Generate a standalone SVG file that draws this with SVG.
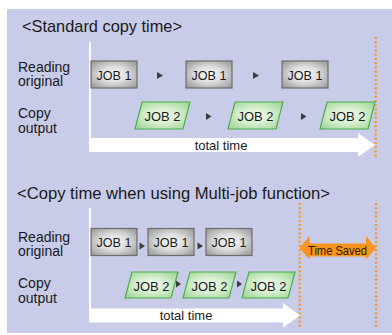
<svg xmlns="http://www.w3.org/2000/svg" width="392" height="335" viewBox="0 0 392 335">
<style>
.bg{fill:#c8cce8}
.title{font-family:"Liberation Sans",Arial,sans-serif;font-size:17px;fill:#1a1a1a}
.lbl{font-family:"Liberation Sans",Arial,sans-serif;font-size:14px;fill:#1a1a1a}
.job{font-family:"Liberation Sans",Arial,sans-serif;font-size:13.5px;fill:#1a1a1a;text-anchor:middle}
.tt{font-family:"Liberation Sans",Arial,sans-serif;font-size:13px;fill:#1a1a1a;text-anchor:middle}
.ts{font-family:"Liberation Sans",Arial,sans-serif;font-size:13px;fill:#2a1a0a;text-anchor:middle}
.box{fill:url(#gray);stroke:#6e6e6e;stroke-width:1.2}
.para{fill:url(#green);stroke:#4cae4c;stroke-width:1.2}
.tri{fill:#3c3c3c}
.white{fill:#ffffff}
.dots{fill:none;stroke:#f7941d;stroke-width:2.2;stroke-dasharray:2 2.2}
.saved{fill:#f7941d}
</style>
<defs>
<radialGradient id="gray" cx="0.5" cy="0.5" r="0.65">
<stop offset="0" stop-color="#f6f6f6"/>
<stop offset="0.45" stop-color="#dedede"/>
<stop offset="1" stop-color="#9c9c9c"/>
</radialGradient>
<radialGradient id="green" cx="0.5" cy="0.5" r="0.65">
<stop offset="0" stop-color="#f2faee"/>
<stop offset="0.45" stop-color="#d6efcf"/>
<stop offset="1" stop-color="#9fd596"/>
</radialGradient>
</defs>
<rect class="bg" x="7" y="9" width="385" height="324"/>

<g id="titles">
<text class="title" x="22" y="32" textLength="160" lengthAdjust="spacingAndGlyphs">&lt;Standard copy time&gt;</text>
<text class="title" x="17" y="199" textLength="313" lengthAdjust="spacingAndGlyphs">&lt;Copy time when using Multi-job function&gt;</text>
</g>

<g id="labels">
<text class="lbl" x="18" y="71.5">Reading</text>
<text class="lbl" x="18" y="86">original</text>
<text class="lbl" x="18" y="117.5">Copy</text>
<text class="lbl" x="18" y="133">output</text>
<text class="lbl" x="18" y="241.5">Reading</text>
<text class="lbl" x="18" y="256">original</text>
<text class="lbl" x="18" y="287.5">Copy</text>
<text class="lbl" x="18" y="302.5">output</text>
</g>

<g id="timeline1">
<rect class="white" x="89" y="42" width="2" height="100"/>
<polygon class="white" points="89,138 358,138 358,133 375,145 358,157 358,152 89,152"/>
<text class="tt" x="221" y="149.5">total time</text>
<line class="dots" x1="375.7" y1="37" x2="375.7" y2="159"/>
</g>

<g id="timeline2">
<rect class="white" x="89" y="208" width="2" height="104"/>
<polygon class="white" points="89,308.5 283,308.5 283,303 300,315.5 283,327.5 283,322.5 89,322.5"/>
<text class="tt" x="186" y="320">total time</text>
<line class="dots" x1="299.7" y1="203" x2="299.7" y2="327"/>
<line class="dots" x1="376" y1="203" x2="376" y2="327"/>
</g>

<g id="job1-std-1"><rect class="box" x="91" y="61" width="46" height="27"/><text class="job" x="114" y="80" textLength="35" lengthAdjust="spacingAndGlyphs">JOB 1</text></g>
<g id="job1-std-2"><rect class="box" x="186" y="61" width="46" height="27"/><text class="job" x="209" y="80" textLength="35" lengthAdjust="spacingAndGlyphs">JOB 1</text></g>
<g id="job1-std-3"><rect class="box" x="282" y="61" width="46" height="27"/><text class="job" x="305" y="80" textLength="35" lengthAdjust="spacingAndGlyphs">JOB 1</text></g>

<g id="job2-std-1"><polygon class="para" points="135,129 142,102 190,102 183,129"/><text class="job" x="162.5" y="121" textLength="36" lengthAdjust="spacingAndGlyphs">JOB 2</text></g>
<g id="job2-std-2"><polygon class="para" points="228,129 235,102 283,102 276,129"/><text class="job" x="255.5" y="121" textLength="36" lengthAdjust="spacingAndGlyphs">JOB 2</text></g>
<g id="job2-std-3"><polygon class="para" points="320,129 327,102 375,102 368,129"/><text class="job" x="347.5" y="121" textLength="36" lengthAdjust="spacingAndGlyphs">JOB 2</text></g>

<g id="job1-multi-1"><rect class="box" x="91" y="228.5" width="46" height="27"/><text class="job" x="114" y="247" textLength="35" lengthAdjust="spacingAndGlyphs">JOB 1</text></g>
<g id="job1-multi-2"><rect class="box" x="148" y="228.5" width="46" height="27"/><text class="job" x="171" y="247" textLength="35" lengthAdjust="spacingAndGlyphs">JOB 1</text></g>
<g id="job1-multi-3"><rect class="box" x="206" y="228.5" width="46" height="27"/><text class="job" x="229" y="247" textLength="35" lengthAdjust="spacingAndGlyphs">JOB 1</text></g>

<g id="job2-multi-1"><polygon class="para" points="125,298 132,272 178,272 171,298"/><text class="job" x="151.5" y="291" textLength="36" lengthAdjust="spacingAndGlyphs">JOB 2</text></g>
<g id="job2-multi-2"><polygon class="para" points="183,298 190,272 236,272 229,298"/><text class="job" x="209.5" y="291" textLength="36" lengthAdjust="spacingAndGlyphs">JOB 2</text></g>
<g id="job2-multi-3"><polygon class="para" points="242,298 249,272 295,272 288,298"/><text class="job" x="268.5" y="291" textLength="36" lengthAdjust="spacingAndGlyphs">JOB 2</text></g>

<g id="time-saved">
<polygon class="saved" points="299.5,248 309.5,236 309.5,243.5 366,243.5 366,236 376,248 366,259.5 366,256.5 309.5,256.5 309.5,259.5"/>
<text class="ts" x="337.5" y="255" textLength="59" lengthAdjust="spacingAndGlyphs">Time Saved</text>
</g>

<g id="connectors">
<polygon class="tri" points="157,72 163,75.5 157,79"/>
<polygon class="tri" points="253,72 259,75.5 253,79"/>
<polygon class="tri" points="206,113 211.5,116.5 206,120"/>
<polygon class="tri" points="301,113 306.5,116.5 301,120"/>
<polygon class="tri" points="139.5,242.5 145,246 139.5,249.5"/>
<polygon class="tri" points="197.5,242.5 203,246 197.5,249.5"/>
<polygon class="tri" points="176,280.5 181,284 176,287.5"/>
<polygon class="tri" points="237,280.5 242,284 237,287.5"/>
</g>
</svg>
